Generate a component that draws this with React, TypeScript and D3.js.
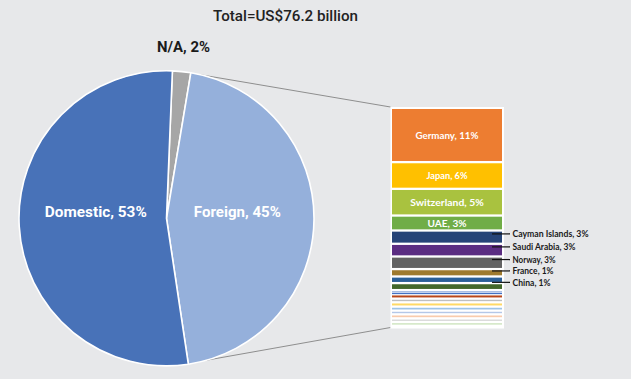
import React from 'react';
import * as d3 from 'd3';

const TITLE = 'Total=US$76.2 billion';

const pieLabels = ['N/A', 'Foreign', 'Domestic'];
const pieValues = [2, 45, 53];
const pieColors = ['#a6a6a6', '#95b0db', '#4872b8'];

const foreignCountries = [
  'Germany', 'Japan', 'Switzerland', 'UAE', 'Cayman Islands', 'Saudi Arabia', 'Norway', 'France', 'China',
  'Other A', 'Other B', 'Other C', 'Other D', 'Other E', 'Other F', 'Other G', 'Other H', 'Other I', 'Other J', 'Other K',
];
const foreignShares = [
  11.24, 5.53, 5.53, 3.1, 2.75, 2.63, 2.61, 1.53, 1.37,
  1.45, 0.35, 0.52, 0.89, 0.77, 0.89, 0.83, 0.77, 0.83, 0.79, 0.66,
];
const foreignShareLabels = ['11%', '6%', '5%', '3%', '3%', '3%', '3%', '1%', '1%'];
const foreignColors = [
  '#ed7d31', '#ffc000', '#a9c23f', '#70ad47', '#264478', '#5b2d82', '#636363', '#9e7a2e', '#2a5f98',
  '#43682b', '#8faadc', '#4472c4', '#b9471a', '#bfbfbf', '#ffd966', '#9dc3e6', '#b4c7e7', '#f8cbad', '#dbdbdb', '#c5e0b4',
];
const INSIDE_COUNT = 4;
const OUTSIDE_COUNT = 9;

const W = 631;
const H = 379;
const BG = '#e7e8ea';
const FONT = 'Roboto, "Open Sans", Arial, sans-serif';
const FONT2 = 'Lato, "Noto Sans", Arial, sans-serif';

export default function App() {
  const cx = 166.5;
  const cy = 218.3;
  const r = 147.5;
  const pie = d3.pie<number>().sort(null).startAngle(0.04).endAngle(0.04 + Math.PI * 2);
  const arcs = pie(pieValues);
  const arcGen = d3.arc<d3.PieArcDatum<number>>().innerRadius(0).outerRadius(r);
  const labelArc = d3.arc<d3.PieArcDatum<number>>().innerRadius(r * 0.48).outerRadius(r * 0.48);
  const pt = (a: number): [number, number] => [cx + r * Math.sin(a), cy - r * Math.cos(a)];

  // stacked column
  const boxX0 = 390.5, boxX1 = 504;
  const segX0 = 392, segX1 = 502;
  const total = d3.sum(foreignShares);
  const y = d3.scaleLinear().domain([0, total]).range([109, 326.5]);
  const cum = [0];
  foreignShares.forEach((v, i) => cum.push(cum[i] + v));
  const segs = foreignShares.map((v, i) => {
    const y0 = y(cum[i]);
    const y1 = y(cum[i + 1]);
    const h = Math.max(1.2, y1 - y0 - 2.3);
    return { y0, h, mid: y0 + h / 2, color: foreignColors[i], name: foreignCountries[i] };
  });

  // outside label positions (spread)
  const outside = segs.slice(INSIDE_COUNT, OUTSIDE_COUNT).map((s, k) => ({ ...s, idx: k + INSIDE_COUNT, ly: s.mid }));
  for (let k = 1; k < outside.length; k++) {
    if (outside[k].ly - outside[k - 1].ly < 11.4) outside[k].ly = outside[k - 1].ly + 11.4;
  }
  const shift = d3.mean(outside, (o) => o.mid)! - d3.mean(outside, (o) => o.ly)! - 1.8;
  outside.forEach((o) => (o.ly += shift));

  const foreign = arcs[1];
  const topPt = pt(foreign.startAngle + 0.065);
  const botPt = pt(foreign.endAngle - 0.13);

  const insideW = [63, 41, 73.6, 39];
  const outsideW = [76, 63, 43, 41, 38];

  return (
    <svg width={W} height={H} style={{ position: 'absolute', left: 0, top: 0, display: 'block' }}>
      <rect x={0} y={0} width={W} height={H} fill={BG} />
      <text x={285.5} y={21.3} textAnchor="middle" fontFamily={FONT} fontWeight={500} fontSize={15} fill="#222222"
        textLength={145} lengthAdjust="spacingAndGlyphs">{TITLE}</text>

      {/* connectors */}
      <line x1={topPt[0]} y1={topPt[1]} x2={boxX0} y2={107} stroke="#8e8e8e" strokeWidth={1} />
      <line x1={botPt[0]} y1={botPt[1]} x2={boxX0} y2={327.5} stroke="#8e8e8e" strokeWidth={1} />

      {/* pie */}
      <g>
        {arcs.map((a, i) => (
          <path key={i} d={arcGen(a)!} transform={`translate(${cx},${cy})`} fill={pieColors[i]} stroke="#ffffff" strokeWidth={1.6} strokeLinejoin="round" />
        ))}
        {arcs.map((a, i) => {
          if (i === 0) return null;
          const c = labelArc.centroid(a);
          const w = i === 1 ? 87 : 102;
          return (
            <text key={'l' + i} x={cx + c[0]} y={216.5} textAnchor="middle" fontFamily={FONT} fontWeight={700}
              fontSize={14} fill="#ffffff" textLength={w} lengthAdjust="spacingAndGlyphs">
              {`${pieLabels[i]}, ${pieValues[i]}%`}
            </text>
          );
        })}
        <text x={157} y={51.5} fontFamily={FONT} fontWeight={700} fontSize={14} fill="#1a1a1a"
          textLength={53} lengthAdjust="spacingAndGlyphs">{`${pieLabels[0]}, ${pieValues[0]}%`}</text>
      </g>

      {/* stacked column */}
      <rect x={boxX0} y={107} width={boxX1 - boxX0} height={221.5} fill="#ffffff" />
      {segs.map((s, i) => (
        <rect key={i} x={segX0} y={s.y0} width={segX1 - segX0} height={s.h} fill={s.color} />
      ))}
      {segs.slice(0, INSIDE_COUNT).map((s, i) => (
        <text key={'in' + i} x={(segX0 + segX1) / 2} y={s.mid + 3.6} textAnchor="middle" fontFamily={FONT2}
          fontWeight={700} fontSize={10} fill="#ffffff" textLength={insideW[i]} lengthAdjust="spacingAndGlyphs">
          {`${s.name}, ${foreignShareLabels[i]}`}
        </text>
      ))}
      {outside.map((o, k) => (
        <g key={'out' + k}>
          <line x1={492} x2={510} y1={o.ly} y2={o.ly} stroke="#111111" strokeWidth={1.2} />
          <text x={512.5} y={o.ly + 3.3} fontFamily={FONT2} fontWeight={700} fontSize={9.5} fill="#1a1a1a"
            textLength={outsideW[k]} lengthAdjust="spacingAndGlyphs">
            {`${o.name}, ${foreignShareLabels[o.idx]}`}
          </text>
        </g>
      ))}
    </svg>
  );
}
